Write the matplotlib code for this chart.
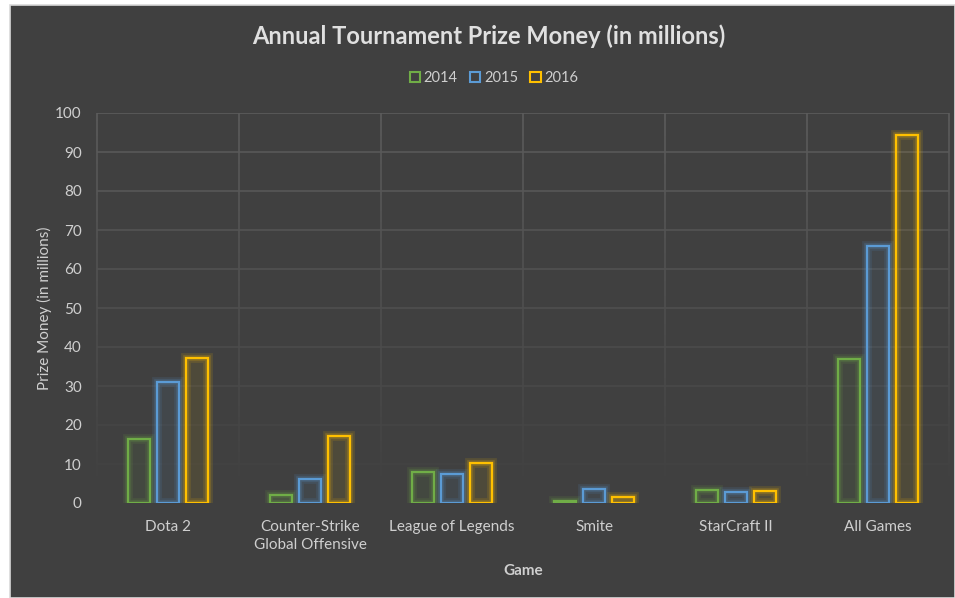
import numpy as np
import matplotlib
matplotlib.use("Agg")
import matplotlib.pyplot as plt
from matplotlib.colors import to_rgb
from matplotlib.collections import LineCollection
from matplotlib.patches import Patch, Rectangle

# data (millions of USD)
games = ["Dota 2", "Counter-Strike\nGlobal Offensive", "League of Legends",
         "Smite", "StarCraft II", "All Games"]
years = ["2014", "2015", "2016"]
prize_2014 = [16.4, 2.0, 7.9, 0.5, 3.3, 36.9]
prize_2015 = [30.9, 6.2, 7.5, 3.5, 2.7, 65.9]
prize_2016 = [37.1, 17.1, 10.2, 1.5, 3.0, 94.4]
yticks = list(range(0, 101, 10))

colors = ["#70AD47", "#5B9BD5", "#FFC000"]
bg = "#404040"
txt = "#CFCFCF"
grid = "#5C5C5C"

plt.rcParams["font.family"] = ["Lato", "DejaVu Sans"]


def fade_col(y):
    # gridlines get fainter towards the bottom of the plot area
    f = np.clip((y - 3) / 97, 0, 1) ** 0.9
    b, g = np.array(to_rgb(bg)), np.array(to_rgb(grid))
    return tuple(b + (g - b) * f)


fig = plt.figure(figsize=(9.55, 5.98), dpi=100, facecolor="white")
# chart area (white strip on left/top like the screenshot)
fig.patches.append(Rectangle((10 / 955, 0), 1 - 10 / 955, 1 - 5 / 598,
                             transform=fig.transFigure, facecolor=bg,
                             edgecolor="#D9D9D9", linewidth=1.2, zorder=-5))

ax = fig.add_axes([97 / 955, 1 - 503 / 598, (949 - 97) / 955, (503 - 113) / 598])
ax.set_facecolor("none")
ax.set_zorder(2)

x = np.arange(len(games))
width = 0.155
step = 0.204
series = [prize_2014, prize_2015, prize_2016]
for i, (vals, col) in enumerate(zip(series, colors)):
    pos = x + (i - 1) * step
    # soft glow around the outline
    ax.bar(pos, vals, width, facecolor="none", edgecolor=col, alpha=0.13,
           linewidth=7, zorder=4)
    ax.bar(pos, vals, width, facecolor="none", edgecolor=col, alpha=0.2,
           linewidth=4, zorder=4)
    ax.bar(pos, vals, width, facecolor=col + "14", edgecolor=col,
           linewidth=1.6, zorder=5)

ax.set_xlim(-0.5, len(games) - 0.5)
ax.set_ylim(0, 100)

# horizontal gridlines
for t in yticks[1:]:
    ax.axhline(t, color=fade_col(t), linewidth=1.2, zorder=1)
# vertical separators + plot border, fading downward
ys = np.linspace(0, 100, 101)
segs, cols = [], []
for b in np.arange(-0.5, len(games), 1):
    for y0, y1 in zip(ys[:-1], ys[1:]):
        segs.append([(b, y0), (b, y1)])
        cols.append(fade_col((y0 + y1) / 2))
ax.add_collection(LineCollection(segs, colors=cols, linewidths=1.2, zorder=1,
                                 clip_on=False))

for s in ax.spines.values():
    s.set_visible(False)

ax.set_xticks(x)
ax.set_xticklabels(games, color=txt, fontsize=11, linespacing=1.35)
ax.set_yticks(yticks)
ax.set_yticklabels([str(t) for t in yticks], color=txt, fontsize=11)
ax.tick_params(length=0)
ax.tick_params(axis="x", pad=12)
ax.tick_params(axis="y", pad=11)

fig.text(0.047, (598 - 308) / 598, "Prize Money (in millions)", rotation=90,
         ha="center", va="center", color=txt, fontsize=11)
fig.text(523 / 955, 1 - 571 / 598, "Game", ha="center", va="center",
         color=txt, fontsize=11, fontweight="bold")
fig.text(489 / 955, 1 - 36 / 598, "Annual Tournament Prize Money (in millions)",
         ha="center", va="center", color="#E0E0E0", fontsize=17, fontweight="bold")

handles = [Patch(facecolor="none", edgecolor=c, linewidth=1.5, label=y)
           for c, y in zip(colors, years)]
fig.legend(handles=handles, loc="center", bbox_to_anchor=(494 / 955, 1 - 78 / 598),
           ncol=3, frameon=False, fontsize=10.5, labelcolor=txt, handlelength=0.7,
           handleheight=0.7, handletextpad=0.25, columnspacing=0.85)

fig.savefig("out.png", dpi=100, facecolor="white")
